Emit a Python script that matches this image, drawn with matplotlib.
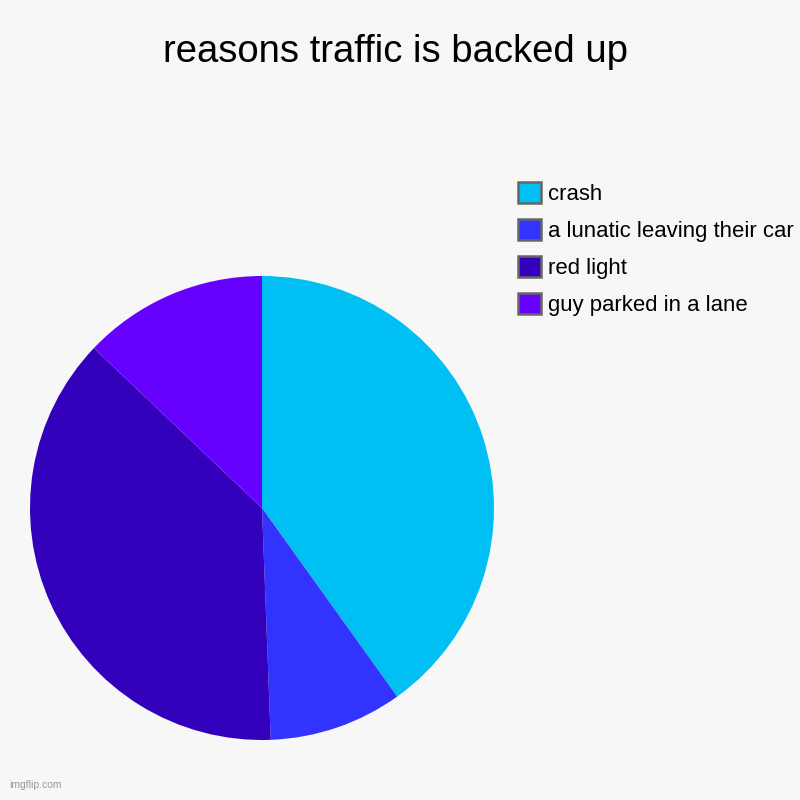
import matplotlib.pyplot as plt
from matplotlib.patches import Patch

plt.rcParams['font.family'] = ['Liberation Sans', 'DejaVu Sans']

labels = ["crash", "a lunatic leaving their car", "red light", "guy parked in a lane"]
values = [40.1, 9.3, 37.7, 12.9]
colors = ["#00BFF3", "#3333FF", "#3300BB", "#6600FF"]

bg = "#F7F7F7"
fig = plt.figure(figsize=(8, 8), dpi=100, facecolor=bg)

ax = fig.add_axes([0.0375, 0.075, 0.58, 0.58])
ax.set_facecolor(bg)
ax.pie(values, colors=colors, startangle=90, counterclock=False, radius=1,
       wedgeprops=dict(linewidth=0))
ax.set_xlim(-1, 1)
ax.set_ylim(-1, 1)
ax.set_aspect("equal")
ax.axis("off")

fig.text(0.494, 0.935, "reasons traffic is backed up", ha="center", va="center",
         fontsize=27.5)

handles = [Patch(facecolor=c, edgecolor="#666666", linewidth=1.8) for c in colors]
fig.legend(handles, labels, loc="upper left", bbox_to_anchor=(0.636, 0.784),
           frameon=False, fontsize=15.9, handlelength=1.08, handleheight=1.08,
           handletextpad=0.3, labelspacing=0.645, borderaxespad=0)

fig.text(0.012, 0.012, "imgflip.com", fontsize=7.5, color="#999999", ha="left", va="bottom")

fig.savefig("out.png", dpi=100, facecolor=bg)
